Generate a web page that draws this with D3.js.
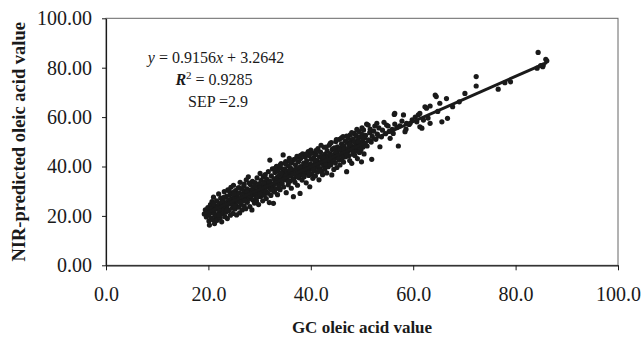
<!DOCTYPE html>
<html>
<head>
<meta charset="utf-8">
<script src="https://cdn.jsdelivr.net/npm/d3@7"></script>
<style>
  body { margin: 0; background: #fff; }
  svg { display: block; }
  text { font-family: "Liberation Serif", "Times New Roman", serif; fill: #1a1a1a; }
</style>
</head>
<body>
<div id="chart"></div>
<script>
// GC value vs NIR-predicted value (low, mid, high ranges + dense core)
const lowRange = [
  [19.2,20.8],[19.4,22.5],[19.6,19.6],[19.7,21.9],[19.9,23.4],[20.0,20.5],[20.1,17.9],[20.2,16.3],[20.3,22.1],[20.4,24.6],
  [20.5,19.2],[20.6,21.4],[20.7,25.8],[20.8,23.0],[20.9,18.4],[21.0,27.6],[21.1,21.0],[21.2,16.9],[21.3,24.2],[21.4,19.8],
  [21.5,22.7],[21.6,26.1],[21.7,18.2],[21.8,23.9],[21.9,20.6],[22.0,28.9],[22.1,25.0],[22.2,21.8],[22.3,19.1],[22.4,27.2],
  [22.5,23.4],[22.6,17.6],[22.7,24.8],[22.8,20.9],[22.9,26.5],[23.0,22.6],[23.1,29.8],[23.2,19.7],
  [23.3,25.3],[23.4,21.5],[23.5,27.9],[23.6,23.8],[23.7,18.9],[23.8,30.5],[23.9,26.2],[24.0,22.2],[24.1,24.9],[24.2,28.6],
  [24.3,20.3],[24.4,31.6],[24.5,26.9],[24.6,23.1],[24.7,29.4],[24.8,21.0],[24.9,32.4],[25.0,25.6],[25.1,27.7],[25.2,22.8],
  [25.3,30.2],[25.4,24.3],[25.5,20.4],[25.6,28.4],[25.7,26.0],[25.8,31.3],[25.9,23.5],[26.0,29.2],[26.1,21.2],[26.2,33.6],
  [26.3,27.1],[26.4,24.7],[26.5,30.8],[26.6,22.4],[26.7,28.9],[26.8,26.3],[26.9,32.1],[27.0,24.0],[27.1,29.9],[27.2,27.4],
  [27.3,22.9],[27.4,34.6],[27.5,31.0],[27.6,25.5],[27.7,28.2],[27.8,35.8],[27.9,26.8],[28.0,30.4],
  [28.1,23.8],[28.2,32.7],[28.3,27.8],[28.4,29.6],[28.5,22.4],[28.6,34.0],[28.7,26.4],[28.8,31.4],[28.9,28.7],[29.0,25.2],
  [29.1,33.5],[29.2,30.1],[29.3,27.2],[29.4,26.0],[29.5,35.4],[29.6,31.9],[29.7,28.9],[29.8,24.6],[29.9,33.0],[30.0,30.6],
  [30.1,37.2],[30.2,27.9],[30.3,34.4],[30.4,29.5],[30.5,32.3],[30.6,26.1],[30.7,35.9],[30.8,31.1],[30.9,28.4],[31.0,33.8],
  [31.1,36.7],[31.2,30.0],[31.3,27.0],[31.4,34.9],[31.5,32.5],[31.6,29.2],[31.7,37.9],[31.8,31.7],[31.9,25.4],[32.0,42.6],
  [32.0,34.1],[32.1,30.9],[32.2,28.3],[32.3,36.2],[32.4,33.0],[32.5,39.0],[32.6,31.5],[32.7,25.1],[32.8,35.0],[32.9,29.7]
];

const midRange = [
  [33.0,37.6],[33.1,33.7],[33.2,31.0],[33.3,40.1],[33.4,35.6],[33.5,28.6],[33.6,38.4],[33.7,32.8],[33.8,36.5],[33.9,34.4],
  [34.0,30.6],[34.1,39.5],[34.2,41.2],[34.3,35.8],[34.4,33.1],[34.5,37.8],[34.6,44.7],[34.7,31.7],[34.8,36.9],[34.9,39.0],
  [35.0,34.6],[35.1,42.0],[35.2,29.4],[35.3,38.1],[35.4,35.3],[35.5,40.4],[35.6,32.6],[35.7,37.2],[35.8,43.3],[35.9,34.0],
  [36.0,39.6],[36.1,36.3],[36.2,31.2],[36.3,41.5],[36.4,38.7],[36.5,35.1],[36.6,27.8],[36.7,42.8],[36.8,37.4],[36.9,33.6],
  [37.0,40.7],[37.1,38.9],[37.2,36.0],[37.3,44.1],[37.4,32.4],[37.5,39.2],[37.6,41.9],[37.7,35.4],[37.8,37.9],[37.9,29.1],
  [38.0,43.2],[38.1,40.0],[38.2,36.8],[38.3,34.5],[38.4,45.1],[38.5,38.6],[38.6,41.4],[38.7,35.9],[38.8,39.8],[38.9,43.8],
  [39.0,37.5],[39.1,33.4],[39.2,42.3],[39.3,40.6],[39.4,38.2],[39.5,46.0],[39.6,36.4],[39.7,44.4],[39.8,31.8],[39.9,41.0],
  [40.0,39.1],[40.1,42.9],[40.2,37.0],[40.3,45.4],[40.4,35.2],[40.5,40.3],[40.6,43.6],[40.7,38.4],[40.8,41.8],[40.9,36.2],
  [41.0,44.9],[41.1,39.7],[41.2,42.4],[41.3,37.8],[41.4,47.2],[41.5,40.9],[41.6,34.6],[41.7,43.9],[41.8,39.2],[41.9,45.8],
  [42.0,41.6],[42.1,38.0],[42.2,44.2],[42.3,36.7],[42.4,42.7],[42.5,40.4],[42.6,47.8],[42.7,38.9],[42.8,45.0],[42.9,43.1],
  [43.0,41.1],[43.1,37.4],[43.2,46.3],[43.3,44.0],[43.4,39.9],[43.5,42.2],[43.6,48.6],[43.7,45.2],[43.8,49.4],[43.9,40.6],
  [44.0,43.7],[44.1,36.6],[44.2,46.9],[44.3,42.0],[44.4,44.8],[44.5,38.8],[44.6,47.6],[44.7,43.3],[44.8,41.4],[44.9,50.1],
  [45.0,45.6],[45.1,39.6],[45.2,48.0],[45.3,44.2],[45.4,46.6],[45.5,42.6],[45.6,51.0],[45.7,40.6],[45.8,47.3],[45.9,44.9],
  [46.0,49.2],[46.1,43.0],[46.2,46.1],[46.3,52.1],[46.4,41.8],[46.5,48.4],[46.6,45.4],[46.7,50.3],[46.8,43.9],[46.9,47.0],
  [47.0,37.9],[47.1,49.8],[47.2,45.9],[47.3,51.6],[47.4,44.3],[47.5,48.7],[47.6,42.4],[47.7,52.8],[47.8,46.7],[47.9,50.6]
];

const highRange = [
  [48.0,41.3],[48.1,48.1],[48.2,45.0],[48.3,51.2],[48.4,47.4],[48.5,53.4],[48.6,44.5],[48.7,49.6],[48.8,46.2],[48.9,52.4],
  [49.0,48.8],[49.1,43.2],[49.2,50.7],[49.3,47.7],[49.4,54.1],[49.5,45.7],[49.6,51.9],[49.7,49.1],[49.8,46.8],[49.9,41.9],
  [50.0,53.0],[50.1,50.2],[50.2,47.9],[50.3,54.8],[50.4,45.1],[50.5,51.5],[50.6,49.4],[50.7,52.6],[50.9,57.2],[51.0,48.3],
  [51.2,56.8],[51.3,50.8],[51.5,53.7],[51.6,55.1],[51.8,49.9],[51.9,42.9],[52.0,52.2],[52.3,54.3],[52.5,56.4],[52.7,51.0],
  [52.9,57.5],[53.0,53.1],[53.3,55.6],[53.5,48.0],[53.8,52.0],[54.0,54.7],[54.3,57.9],[54.6,53.3],[54.8,56.8],[55.1,56.4],
  [55.3,54.2],[55.5,51.4],[55.9,55.0],[56.1,53.4],[56.3,61.1],[56.4,57.2],[56.4,61.5],[56.8,55.8],[57.1,48.3],[57.4,56.5],
  [57.8,58.4],[58.1,60.9],[58.4,54.1],[58.6,55.1],[58.7,57.5],[59.2,57.0],[59.4,57.5],[59.8,58.9],
  [60.4,60.0],[60.7,58.1],[61.0,60.9],[61.3,56.1],[61.3,61.5],[61.7,55.5],[62.0,58.8],[62.3,64.2],[62.6,63.6],[62.9,59.6],
  [63.3,57.5],[63.3,64.5],[64.3,68.9],[64.5,68.3],[64.8,62.3],[65.2,65.6],[65.6,58.1],[66.5,67.5],[66.7,59.5],[67.7,64.2],
  [69.0,66.2],[70.1,69.6],[72.3,76.4],[72.3,72.6],[76.6,71.3],[77.9,73.9],[79.0,74.3],[84.4,86.2],[84.2,79.8],[85.3,80.4],
  [85.4,81.1],[85.9,83.4],[86.1,82.8],[84.9,80.9]
];

// extra samples where the scan is solid black
const denseCore = [
  [20.1,21.0],[20.6,23.0],[21.1,22.3],[21.6,20.3],[22.1,22.9],[22.6,25.6],[23.1,24.2],[23.6,22.3],[24.1,26.5],[24.6,25.0],
  [25.1,24.0],[25.6,27.0],[26.1,25.6],[26.6,28.3],[27.1,26.1],[27.6,29.6],[28.1,28.2],[28.6,30.9],[29.1,29.4],[29.6,27.7],
  [30.0,29.0],[21.0,25.0],[22.0,20.4],[23.0,27.5],[24.0,30.3],[25.0,29.0],[26.0,31.5],[27.0,32.9],[28.0,33.3],[29.0,32.0],
  [30.2,31.5],[30.8,33.2],[31.3,31.9],[31.9,33.6],[32.4,30.4],[32.9,32.8],[33.4,34.1],[33.8,31.6],[34.3,37.2],[34.7,34.8],
  [35.1,36.3],[35.6,34.0],[35.9,38.6],[36.3,36.9],[36.7,34.6],[37.1,37.6],[37.5,36.0],[37.9,39.8],[38.3,38.1],[38.6,36.2],
  [39.0,40.5],[39.4,39.0],[39.7,37.4],[40.1,40.6],[40.5,38.8],[40.9,42.5],[41.3,40.6],[41.7,38.3],[42.1,42.2],[42.5,43.4],
  [42.9,41.0],[43.3,42.7],[43.7,40.8],[44.1,44.5],[44.5,42.9],[44.9,45.9],[45.3,43.5],[45.7,46.8],[46.1,44.6],[46.5,46.9],
  [46.9,45.1],[47.3,47.2],[47.7,49.2],[48.1,46.7],[48.5,50.0],[48.9,48.0],[49.3,50.0],[49.7,47.6],[50.1,51.6],[50.5,48.5],
  [33.0,39.3],[34.0,40.6],[35.0,41.2],[36.0,42.0],[37.0,43.0],[38.0,44.5],[39.0,45.0],[40.0,46.6],[41.0,46.4],[42.0,48.6],
  [43.0,47.9],[44.0,49.7],[45.0,50.9],[46.0,51.6],[47.0,52.3],[48.0,53.7],[49.0,55.0],[50.0,55.6]
];

const xTicks = [0, 20, 40, 60, 80, 100];
const yTicks = [0, 20, 40, 60, 80, 100];
const slope = 0.9156, intercept = 3.2642;

const width = 641, height = 337;
const ink = "#1a1a1a";

const svg = d3.select("#chart").append("svg")
    .attr("width", width)
    .attr("height", height);

svg.append("rect").attr("width", width).attr("height", height).attr("fill", "#fff");

const x = d3.scaleLinear().domain([0, 100]).range([106, 618]);
const y = d3.scaleLinear().domain([0, 100]).range([265.3, 18.3]);

// plot frame
svg.append("rect")
    .attr("x", x(0)).attr("y", y(100))
    .attr("width", x(100) - x(0)).attr("height", y(0) - y(100))
    .attr("fill", "none")
    .attr("stroke", "#666")
    .attr("stroke-width", 1);

// axes
const xAxis = svg.append("g")
    .attr("transform", `translate(0,${y(0)})`)
    .call(d3.axisBottom(x).tickValues(xTicks).tickFormat(d3.format(".1f"))
        .tickSize(5).tickSizeOuter(0).tickPadding(17));

const yAxis = svg.append("g")
    .attr("transform", `translate(${x(0)},0)`)
    .call(d3.axisLeft(y).tickValues(yTicks).tickFormat(d3.format(".2f"))
        .tickSize(4).tickSizeOuter(0).tickPadding(10));

[xAxis, yAxis].forEach(g => {
  g.select(".domain").attr("stroke", ink).attr("stroke-width", 1.2);
  g.selectAll(".tick line").attr("stroke", ink);
  g.selectAll(".tick text")
    .attr("fill", ink)
    .style("font-family", '"Liberation Serif", "Times New Roman", serif')
    .style("font-size", "20px");
});

// points
const allPoints = lowRange.concat(midRange, highRange, denseCore);

svg.append("g")
  .selectAll("circle")
  .data(allPoints)
  .enter()
  .append("circle")
    .attr("cx", d => x(d[0]))
    .attr("cy", d => y(d[1]))
    .attr("r", 2.6)
    .attr("fill", ink);

// regression line
const xs = d3.extent(allPoints, d => d[0]);
svg.append("line")
    .attr("x1", x(xs[0])).attr("y1", y(slope * xs[0] + intercept))
    .attr("x2", x(xs[1])).attr("y2", y(slope * xs[1] + intercept))
    .attr("stroke", ink)
    .attr("stroke-width", 3);

// equation block
const eq = svg.append("g").attr("font-size", "16px").attr("text-anchor", "middle");

const line1 = eq.append("text").attr("x", 216).attr("y", 63);
line1.append("tspan").attr("font-style", "italic").text("y");
line1.append("tspan").text(" = 0.9156");
line1.append("tspan").attr("font-style", "italic").text("x");
line1.append("tspan").text(" + 3.2642");

const line2 = eq.append("text").attr("x", 214).attr("y", 85);
line2.append("tspan").attr("font-style", "italic").attr("font-weight", "bold").text("R");
line2.append("tspan").attr("font-size", "11px").attr("dy", -6).text("2");
line2.append("tspan").attr("dy", 6).text(" = 0.9285");

eq.append("text").attr("x", 218).attr("y", 106.5).text("SEP =2.9");

// axis titles
svg.append("text")
    .attr("x", 362).attr("y", 333)
    .attr("text-anchor", "middle")
    .attr("font-weight", "bold")
    .attr("font-size", "17px")
    .text("GC oleic acid value");

svg.append("text")
    .attr("transform", `translate(25,${(y(0) + y(100)) / 2}) rotate(-90)`)
    .attr("text-anchor", "middle")
    .attr("font-weight", "bold")
    .attr("font-size", "18.5px")
    .text("NIR-predicted oleic acid value");
</script>
</body>
</html>
